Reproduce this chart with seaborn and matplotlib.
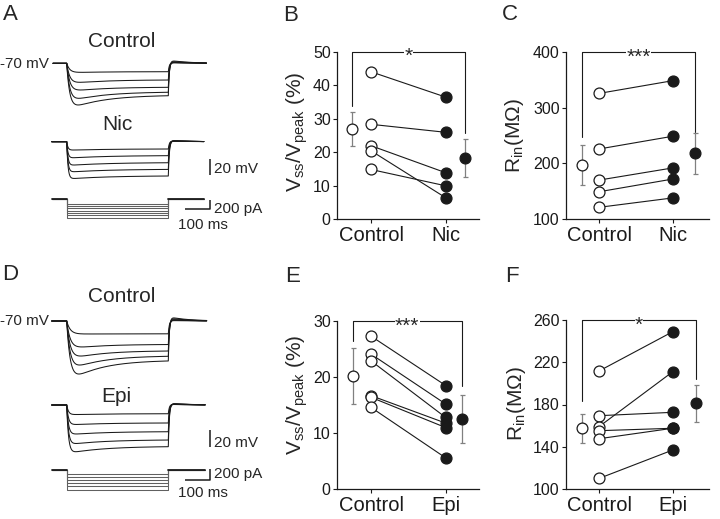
import numpy as np
import pandas as pd
import matplotlib
matplotlib.use('Agg')
import matplotlib.pyplot as plt
import seaborn as sns

sns.set_theme(style='ticks')
plt.rcParams['font.family'] = ['Liberation Sans', 'DejaVu Sans']
plt.rcParams['mathtext.fontset'] = 'custom'
plt.rcParams['mathtext.rm'] = 'Liberation Sans'
plt.rcParams['mathtext.it'] = 'Liberation Sans:italic'
plt.rcParams['mathtext.bf'] = 'Liberation Sans:bold'

# ---------------- data ----------------
# Panel B: Vss/Vpeak (%)
B_ctrl = [44.0, 28.3, 21.9, 20.4, 14.8]
B_nic = [36.4, 25.9, 13.8, 6.3, 9.9]
B_mean = [26.8, 18.2]
B_err = [5.05, 5.6]
# Panel C: Rin (MOhm)
C_ctrl = [326, 226, 170, 149, 121]
C_nic = [349, 249, 192, 172, 138]
C_mean = [196.6, 218.0]
C_err = [36.2, 36.6]
# Panel E: Vss/Vpeak (%)
E_ctrl = [27.3, 24.1, 22.9, 16.7, 16.4, 14.6]
E_epi = [18.5, 15.2, 12.8, 11.8, 11.0, 5.6]
E_mean = [20.2, 12.5]
E_err = [5.05, 4.3]
# Panel F: Rin (MOhm)
F_ctrl = [211.7, 169.4, 159.0, 155.2, 147.6, 110.0]
F_epi = [248.9, 172.6, 211.0, 157.5, 157.5, 136.9]
F_mean = [157.4, 181.0]
F_err = [13.9, 17.4]

# Voltage traces: steady-state and peak hyperpolarisation (mV below -70 mV)
A_ctrl_ss = [10.7, 21.3, 30.6, 36.9, 41.3]
A_ctrl_pk = [11.5, 24.2, 34.0, 44.6, 53.1]
A_nic_ss = [9.3, 17.8, 26.8, 35.3, 43.7]
A_nic_pk = [10.6, 20.4, 29.7, 38.2, 46.8]
D_ctrl_ss = [14.8, 27.2, 34.7, 40.8, 46.2]
D_ctrl_pk = [15.0, 30.0, 40.5, 50.9, 61.3]
D_epi_ss = [10.1, 20.8, 30.9, 40.5, 48.2]
D_epi_pk = [11.0, 22.5, 33.5, 44.5, 54.0]
# Current steps (pA)
A_steps = [-100, -150, -200, -250, -300, -350, -400]
D_steps = [-70, -125, -180, -235, -290, -345]
STEP_MS = 400

# ---------------- layout helpers ----------------
W, H = 720, 519
fig = plt.figure(figsize=(7.2, 5.19), dpi=100)


def px_axes(l, t, r, b):
    return fig.add_axes([l / W, 1 - b / H, (r - l) / W, (b - t) / H])


def ftext(x, y, s, **kw):
    fig.text(x / W, 1 - y / H, s, **kw)


ONSET_PX = 66.7
PX_PER_MS = 0.254


def trace_axes(top, bot, base_px, base_val, px_per_unit):
    ax = px_axes(30, top, 240, bot)
    ax.set_xlim((30 - ONSET_PX) / PX_PER_MS, (240 - ONSET_PX) / PX_PER_MS)
    ax.set_ylim(base_val - (bot - base_px) / px_per_unit,
                base_val + (base_px - top) / px_per_unit)
    ax.axis('off')
    ax.patch.set_alpha(0)
    return ax


def volt_traces(ax, ss_list, pk_list, tm, th, t0, t1, tr=4.0, ovf=0.3):
    rows = []
    T = STEP_MS
    tt = np.linspace(0, T, 801)
    for i, (ss, pk) in enumerate(zip(ss_list, pk_list)):
        def shape(t, d):
            return -(1 - np.exp(-t / tm)) * (ss + d * (np.exp(-t / th) - np.exp(-T / th)))
        lo, hi = 0.0, 6 * (pk - ss) + 1
        for _ in range(40):
            mid = 0.5 * (lo + hi)
            if -shape(tt, mid).min() < pk:
                lo = mid
            else:
                hi = mid
        d = 0.5 * (lo + hi)
        t = np.arange(t0, t1 + 0.5, 1.0)
        v = np.zeros_like(t)
        m = (t >= 0) & (t <= T)
        v[m] = shape(t[m], d)
        vT = shape(np.array([T]), d)[0]
        s = t[t > T] - T
        ov = ovf * (pk - ss) + 0.6
        v[t > T] = vT * np.exp(-s / tr) + ov * (1 - np.exp(-s / tr)) * np.exp(-s / 70)
        rows.append(pd.DataFrame({'t': t, 'v': -70 + v, 'trace': i}))
    df = pd.concat(rows)
    sns.lineplot(data=df, x='t', y='v', units='trace', estimator=None, sort=False,
                 color='k', lw=0.75, ax=ax, legend=False)


def current_traces(ax, steps, t0, t1):
    rows = []
    T = STEP_MS
    for i, a in enumerate(steps):
        rows.append(pd.DataFrame({'t': [t0, 0, 0, T, T, t1],
                                  'i': [0, 0, a, a, 0, 0], 'trace': i}))
    df = pd.concat(rows)
    sns.lineplot(data=df, x='t', y='i', units='trace', estimator=None, sort=False,
                 color='#606060', lw=0.75, ax=ax, legend=False)
    ax.plot([t0, 0], [0, 0], color='k', lw=1.3)
    ax.plot([T, t1], [0, 0], color='k', lw=1.3)


def trace_panel(y0, ctrl_base, drug_base, cur_base, kv, ki, ctrl, drug, steps,
                tms, ths, tr_ends, drug_name, txt):
    top, bot = y0, y0 + 245
    ax1 = trace_axes(top, bot, ctrl_base, -70, kv)
    volt_traces(ax1, ctrl[0], ctrl[1], tms[0], ths[0], tr_ends[0][0], tr_ends[0][1])
    ax2 = trace_axes(top, bot, drug_base, -70, kv)
    volt_traces(ax2, drug[0], drug[1], tms[1], ths[1], tr_ends[1][0], tr_ends[1][1])
    ax3 = trace_axes(top, bot, cur_base, 0, ki)
    current_traces(ax3, steps, tr_ends[2][0], tr_ends[2][1])
    # scale bars
    tb = (210 - ONSET_PX) / PX_PER_MS
    v_top = -70 - (txt['mv_bar'][0] - drug_base) / kv
    ax2.plot([tb, tb], [v_top, v_top - 20], color='k', lw=1.1, solid_capstyle='butt')
    i_top = -(txt['pa_bar'] - cur_base) / ki
    ax3.plot([tb - 100, tb, tb], [i_top - 200, i_top - 200, i_top], color='k', lw=1.1,
             solid_capstyle='butt')
    # texts
    ftext(121.5, txt['ctrl_y'], 'Control', ha='center', va='baseline', fontsize=15)
    ftext(txt['drug_x'], txt['drug_y'], drug_name, ha='center', va='baseline', fontsize=15)
    ftext(48.5, txt['m70_y'], '-70 mV', ha='right', va='baseline', fontsize=11)
    ftext(214, txt['mv_y'], '20 mV', ha='left', va='baseline', fontsize=11)
    ftext(214, txt['pa_y'], '200 pA', ha='left', va='baseline', fontsize=11)
    ftext(202.5, txt['ms_y'], '100 ms', ha='center', va='baseline', fontsize=11)


trace_panel(25, 63.3, 141.7, 199.0, 0.785, 9.3 / 200,
            (A_ctrl_ss, A_ctrl_pk), (A_nic_ss, A_nic_pk), A_steps,
            (12, 5), (130, 160), [(-54, 550), (-59, 540), (-59, 540)], 'Nic',
            dict(mv_bar=(159, 175), pa_bar=200.0, ctrl_y=46.7, drug_x=117.5, drug_y=130,
                 m70_y=67.5, mv_y=173.3, pa_y=213.3, ms_y=229.5))

trace_panel(262, 321.0, 405.0, 469.5, 0.865, 11.7 / 200,
            (D_ctrl_ss, D_ctrl_pk), (D_epi_ss, D_epi_pk), D_steps,
            (14, 7), (120, 140), [(-59, 551), (-59, 545), (-59, 545)], 'Epi',
            dict(mv_bar=(430, 447), pa_bar=468.5, ctrl_y=301.7, drug_x=116.7, drug_y=401.7,
                 m70_y=325, mv_y=446.7, pa_y=478.3, ms_y=497.3))


# ---------------- scatter panels ----------------
def pair_panel(box, ctrl_px, drug_px, ctrl, drug, means, errs, mean_px, ylim, yticks,
               names, ylabel, lab_px, br, stars):
    l, t, r, b = box
    ax = px_axes(l, t, r, b)
    ppu = drug_px - ctrl_px
    ax.set_xlim((l - ctrl_px) / ppu, (r - ctrl_px) / ppu)
    ax.set_ylim(*ylim)
    n = len(ctrl)
    df = pd.DataFrame({'cell': np.r_[np.arange(n), np.arange(n)],
                       'x': np.r_[np.zeros(n), np.ones(n)],
                       'y': np.r_[ctrl, drug]})
    sns.lineplot(data=df, x='x', y='y', units='cell', estimator=None, color='k', lw=0.8,
                 ax=ax, legend=False, zorder=2)
    sns.scatterplot(data=df[df.x == 0], x='x', y='y', s=62, color='white', edgecolor='k',
                    linewidth=0.9, ax=ax, zorder=3, clip_on=False, legend=False)
    sns.scatterplot(data=df[df.x == 1], x='x', y='y', s=62, color='k', edgecolor='k',
                    linewidth=0.9, ax=ax, zorder=3, clip_on=False, legend=False)
    mx = [(mean_px[0] - ctrl_px) / ppu, (mean_px[1] - ctrl_px) / ppu]
    ax.errorbar([mx[0]], [means[0]], yerr=[errs[0]], fmt='o', ms=7.8, mfc='white', mec='k',
                mew=0.9, ecolor='#808080', elinewidth=0.9, capsize=1.8, capthick=0.9,
                zorder=3, clip_on=False)
    ax.errorbar([mx[1]], [means[1]], yerr=[errs[1]], fmt='o', ms=7.8, mfc='k', mec='k',
                mew=0.9, ecolor='#808080', elinewidth=0.9, capsize=1.8, capthick=0.9,
                zorder=3, clip_on=False)
    top = ylim[1]
    ax.plot([mx[0], mx[0], mx[1], mx[1]], [br[0], top, top, br[1]], color='k', lw=0.8,
            clip_on=False, zorder=1)
    ax.annotate(stars, xy=(0.5 * (mx[0] + mx[1]), top), xytext=(0, -3.6),
                textcoords='offset points', ha='center', va='center', fontsize=15,
                zorder=4, annotation_clip=False,
                bbox=dict(facecolor='white', edgecolor='none', pad=0.3))
    ax.set_yticks(yticks)
    ax.set_yticklabels([str(v) for v in yticks], fontsize=11.5)
    ax.set_xticks([0, 1])
    ax.set_xticklabels(names, fontsize=14.5)
    ax.set_xlabel('')
    ax.set_ylabel('')
    ax.tick_params(axis='both', direction='out', length=3, width=0.8, pad=1.5, colors='k')
    ax.tick_params(axis='x', pad=2)
    for s in ['top', 'right']:
        ax.spines[s].set_visible(False)
    for s in ['left', 'bottom']:
        ax.spines[s].set_linewidth(0.9)
        ax.spines[s].set_color('k')
    ax.patch.set_alpha(0)
    ftext(lab_px[0], lab_px[1], ylabel, rotation=90, ha='center', va='center', fontsize=15)
    return ax


VLAB = r'V$_{\mathrm{ss}}$/V$_{\mathrm{peak}}$ (%)'
RLAB = r'R$_{\mathrm{in}}$(M$\Omega$)'

pair_panel((337, 51.7, 479, 219), 371, 446, B_ctrl, B_nic, B_mean, B_err, (352, 465),
           (0, 50), [0, 10, 20, 30, 40, 50], ['Control', 'Nic'], VLAB, (297, 132),
           (33.8, 25.8), '*')
pair_panel((566, 52.3, 709, 219), 599, 673, C_ctrl, C_nic, C_mean, C_err, (582, 695),
           (100, 400), [100, 200, 300, 400], ['Control', 'Nic'], RLAB, (515, 136),
           (248, 256), '***')
pair_panel((337, 321, 479, 489.3), 371, 445.7, E_ctrl, E_epi, E_mean, E_err, (352.7, 461.7),
           (0, 30), [0, 10, 20, 30], ['Control', 'Epi'], VLAB, (297, 395),
           (26.4, 18.4), '***')
pair_panel((566, 320, 709, 489), 599, 672.7, F_ctrl, F_epi, F_mean, F_err, (582, 696),
           (100, 260), [100, 140, 180, 220, 260], ['Control', 'Epi'], RLAB, (516, 404),
           (183.6, 204), '*')

# panel letters
for letter, x, y in [('A', 3, 20), ('B', 283, 20.7), ('C', 502, 20),
                     ('D', 2, 280), ('E', 285, 281.7), ('F', 505, 281.7)]:
    ftext(x, y, letter, ha='left', va='baseline', fontsize=16)

fig.savefig('out.png', dpi=100)
